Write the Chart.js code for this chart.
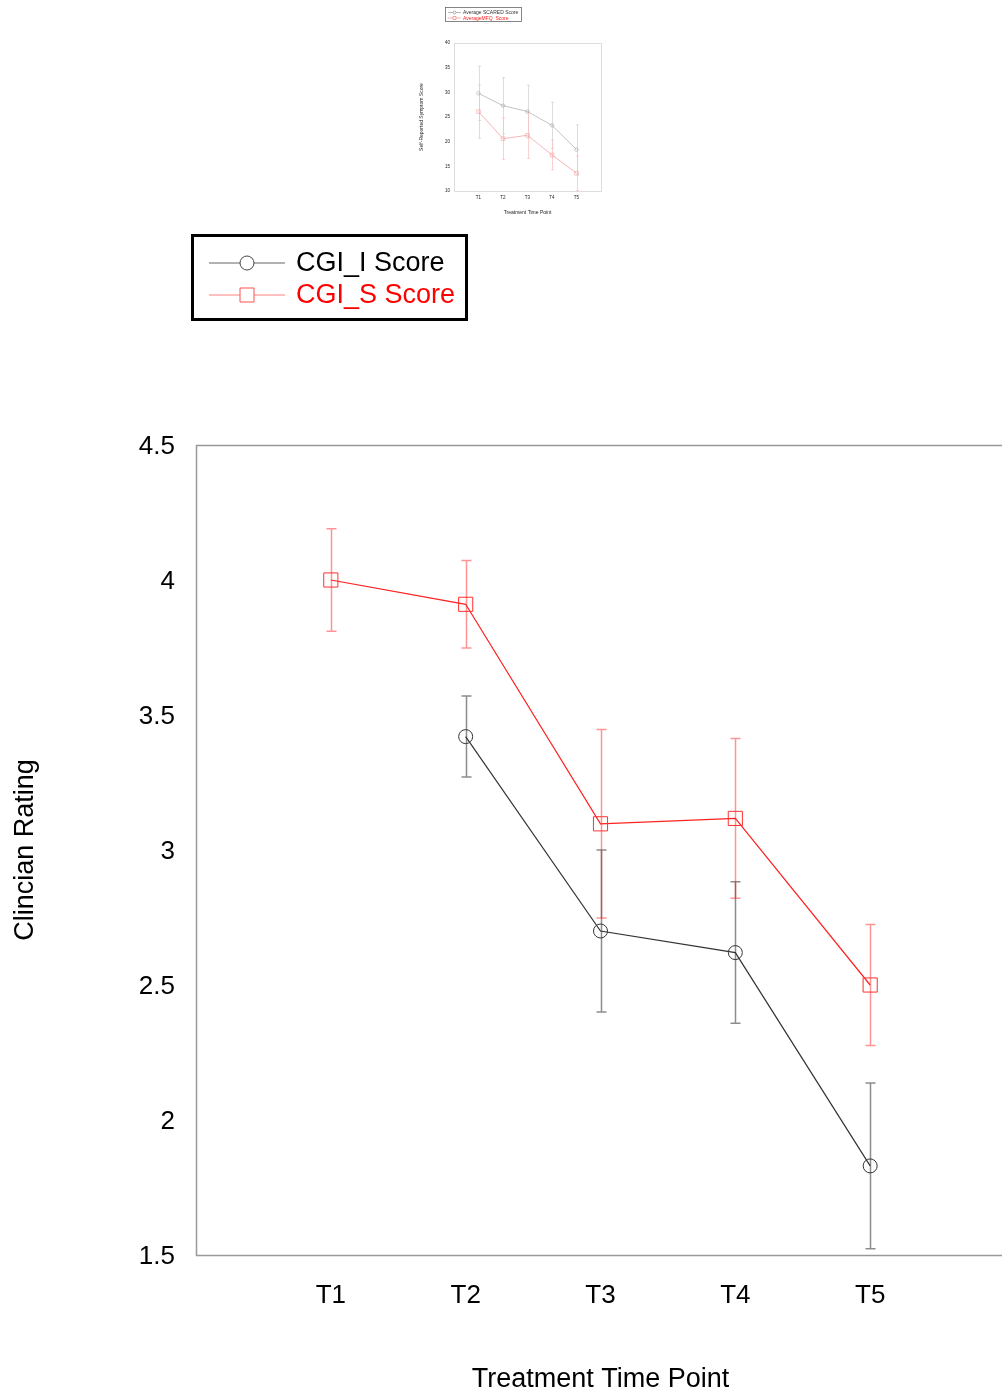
<!DOCTYPE html>
<html>
<head>
<meta charset="utf-8">
<title>Clinician Rating</title>
<script src="https://cdn.jsdelivr.net/npm/chart.js@4.4.1/dist/chart.umd.min.js"></script>
<style>
    html, body { margin: 0; padding: 0; background: #fff; overflow: hidden; }
    #wrap { position: relative; width: 1002px; height: 1391px; overflow: hidden; background: #fff; }
    #mainChart { position: absolute; left: 0; top: 0; }
    #insetChart { position: absolute; left: 410px; top: 0; }
</style>
</head>
<body>
<div id="wrap">
    <canvas id="mainChart" width="1016" height="1391"></canvas>
    <canvas id="insetChart" width="200" height="222"></canvas>
</div>
<script>
// Dữ liệu biểu đồ chính
const categories = ['T1', 'T2', 'T3', 'T4', 'T5'];
const yTicks = [1.5, 2, 2.5, 3, 3.5, 4, 4.5];
const cgiI = [null, 3.42, 2.70, 2.62, 1.83];
const cgiIErr = [null, 0.15, 0.30, 0.262, 0.307];
const cgiS = [4.0, 3.91, 3.097, 3.117, 2.5];
const cgiSErr = [0.19, 0.162, 0.349, 0.296, 0.224];

// Dữ liệu biểu đồ nhỏ phía trên
const insetTicks = [10, 15, 20, 25, 30, 35, 40];
const scared = [29.8, 27.3, 26.1, 23.3, 18.4];
const scaredErr = [5.5, 5.7, 5.35, 4.7, 5.0];
const mfq = [26.1, 20.6, 21.3, 17.3, 13.6];
const mfqErr = [5.4, 4.2, 4.7, 3.0, 3.5];

const FONT = "'Liberation Sans', Arial, sans-serif";

function toPoints(values) {
    return values.map((v, i) => ({ x: i + 1, y: v }));
}

// Vẽ thanh sai số
const errorBarPlugin = {
    id: 'errorBars',
    beforeDatasetsDraw(chart, args, opts) {
        const ctx = chart.ctx;
        const xs = chart.scales.x, ys = chart.scales.y;
        chart.data.datasets.forEach(ds => {
            if (!ds.errors) return;
            ctx.save();
            ctx.strokeStyle = ds.errorColor;
            ctx.lineWidth = opts.lineWidth;
            ds.data.forEach((p, i) => {
                const e = ds.errors[i];
                if (p.y == null || e == null) return;
                const x = Math.round(xs.getPixelForValue(p.x)) + 0.5;
                const top = ys.getPixelForValue(p.y + e);
                const bot = ys.getPixelForValue(p.y - e);
                ctx.beginPath();
                ctx.moveTo(x, top); ctx.lineTo(x, bot);
                ctx.moveTo(x - opts.cap, top); ctx.lineTo(x + opts.cap, top);
                ctx.moveTo(x - opts.cap, bot); ctx.lineTo(x + opts.cap, bot);
                ctx.stroke();
            });
            ctx.restore();
        });
    }
};

// Khung vùng vẽ
const framePlugin = {
    id: 'frame',
    beforeDatasetsDraw(chart, args, opts) {
        const a = chart.chartArea, ctx = chart.ctx;
        ctx.save();
        ctx.strokeStyle = opts.color;
        ctx.lineWidth = opts.width;
        ctx.strokeRect(Math.round(a.left) + 0.5, Math.round(a.top) + 0.5,
            Math.round(a.right - a.left), Math.round(a.bottom - a.top));
        ctx.restore();
    }
};

// Chú thích tự vẽ
const boxLegendPlugin = {
    id: 'boxLegend',
    afterDraw(chart, args, opts) {
        const ctx = chart.ctx;
        ctx.save();
        ctx.strokeStyle = opts.borderColor;
        ctx.lineWidth = opts.borderWidth;
        ctx.strokeRect(opts.box[0], opts.box[1], opts.box[2], opts.box[3]);
        ctx.font = opts.fontSize + 'px ' + FONT;
        ctx.textBaseline = 'middle';
        opts.items.forEach((it, k) => {
            const y = opts.rowY[k];
            ctx.strokeStyle = it.lineColor;
            ctx.lineWidth = 1;
            ctx.beginPath();
            ctx.moveTo(opts.lineX[0], y + 0.5); ctx.lineTo(opts.lineX[1], y + 0.5);
            ctx.stroke();
            const mx = (opts.lineX[0] + opts.lineX[1]) / 2;
            ctx.strokeStyle = it.markerColor;
            ctx.fillStyle = '#fff';
            ctx.beginPath();
            if (it.marker === 'circle') {
                ctx.arc(mx, y + 0.5, opts.markerSize / 2, 0, Math.PI * 2);
            } else {
                ctx.rect(mx - opts.markerSize / 2, y - opts.markerSize / 2 + 0.5, opts.markerSize, opts.markerSize);
            }
            ctx.fill();
            ctx.stroke();
            ctx.fillStyle = it.textColor;
            ctx.fillText(it.text, opts.textX, y + 1);
        });
        ctx.restore();
    }
};

function fixedTicks(values) {
    return scale => { scale.ticks = values.map(v => ({ value: v })); };
}

// Biểu đồ chính
new Chart(document.getElementById('mainChart'), {
    type: 'line',
    data: {
        datasets: [{
            label: 'CGI_I Score',
            data: toPoints(cgiI),
            errors: cgiIErr,
            errorColor: 'rgba(0,0,0,0.45)',
            borderColor: '#333',
            borderWidth: 1.2,
            pointStyle: 'circle',
            pointRadius: 7,
            pointBorderWidth: 1,
            pointBorderColor: '#333',
            pointBackgroundColor: 'rgba(0,0,0,0)',
            fill: false,
            tension: 0
        }, {
            label: 'CGI_S Score',
            data: toPoints(cgiS),
            errors: cgiSErr,
            errorColor: 'rgba(255,0,0,0.42)',
            borderColor: '#ff2020',
            borderWidth: 1.2,
            pointStyle: 'rect',
            pointRadius: 10,
            pointBorderWidth: 1,
            pointBorderColor: '#ff3030',
            pointBackgroundColor: 'rgba(0,0,0,0)',
            fill: false,
            tension: 0
        }]
    },
    options: {
        responsive: false,
        animation: false,
        devicePixelRatio: 1,
        layout: { padding: { top: 445, left: 0, right: 4, bottom: 0 } },
        plugins: {
            legend: { display: false },
            tooltip: { enabled: false },
            errorBars: { lineWidth: 1.5, cap: 5 },
            frame: { color: '#999', width: 1.5 },
            boxLegend: {
                box: [192.5, 235.5, 274, 84],
                borderColor: '#000',
                borderWidth: 3,
                fontSize: 27,
                rowY: [262.5, 294.5],
                lineX: [209, 285],
                textX: 296,
                markerSize: 14,
                items: [
                    { text: 'CGI_I Score', textColor: '#000', lineColor: '#666', markerColor: '#444', marker: 'circle' },
                    { text: 'CGI_S Score', textColor: '#ff0000', lineColor: '#ff8080', markerColor: '#ff5050', marker: 'rect' }
                ]
            }
        },
        scales: {
            x: {
                type: 'linear',
                min: 0,
                max: 6,
                grid: { display: false, drawTicks: false },
                border: { display: false },
                afterBuildTicks: fixedTicks(categories.map((c, i) => i + 1)),
                afterFit: s => { s.height = 136; },
                ticks: {
                    callback: v => categories[v - 1],
                    font: { family: FONT, size: 26 },
                    color: '#000',
                    padding: 25,
                    autoSkip: false,
                    maxRotation: 0
                },
                title: {
                    display: true,
                    text: 'Treatment Time Point',
                    font: { family: FONT, size: 27, lineHeight: 1 },
                    color: '#000',
                    padding: { top: 0, bottom: -2 }
                }
            },
            y: {
                min: 1.5,
                max: 4.5,
                grid: { display: false, drawTicks: false },
                border: { display: false },
                afterBuildTicks: fixedTicks(yTicks),
                afterFit: s => { s.width = 196; },
                ticks: {
                    callback: v => String(v),
                    font: { family: FONT, size: 26 },
                    color: '#000',
                    padding: 21,
                    labelOffset: 2
                },
                title: {
                    display: true,
                    text: 'Clincian Rating',
                    font: { family: FONT, size: 27, lineHeight: 1 },
                    color: '#000',
                    padding: { top: 12, bottom: 0 }
                }
            }
        }
    },
    plugins: [errorBarPlugin, framePlugin, boxLegendPlugin]
});

// Biểu đồ nhỏ (self-reported)
new Chart(document.getElementById('insetChart'), {
    type: 'line',
    data: {
        datasets: [{
            label: 'Average SCARED Score',
            data: toPoints(scared),
            errors: scaredErr,
            errorColor: '#d4d4d4',
            borderColor: '#b4b4b4',
            borderWidth: 0.8,
            pointStyle: 'circle',
            pointRadius: 1.8,
            pointBorderWidth: 0.6,
            pointBorderColor: '#aaa',
            pointBackgroundColor: 'rgba(0,0,0,0)',
            fill: false
        }, {
            label: 'AverageMFQ  Score',
            data: toPoints(mfq),
            errors: mfqErr,
            errorColor: '#f9c4c4',
            borderColor: '#f5a3a3',
            borderWidth: 0.8,
            pointStyle: 'rect',
            pointRadius: 2.6,
            pointBorderWidth: 0.6,
            pointBorderColor: '#f3a0a0',
            pointBackgroundColor: 'rgba(0,0,0,0)',
            fill: false
        }]
    },
    options: {
        responsive: false,
        animation: false,
        devicePixelRatio: 1,
        layout: { padding: { top: 43, left: 0, right: 9, bottom: 0 } },
        plugins: {
            legend: { display: false },
            tooltip: { enabled: false },
            errorBars: { lineWidth: 0.8, cap: 1.5 },
            frame: { color: '#ddd', width: 1 },
            boxLegend: {
                box: [35.5, 7.5, 76, 14],
                borderColor: '#666',
                borderWidth: 0.8,
                fontSize: 5,
                rowY: [12, 17.5],
                lineX: [38, 51],
                textX: 53,
                markerSize: 3,
                items: [
                    { text: 'Average SCARED Score', textColor: '#333', lineColor: '#bbb', markerColor: '#aaa', marker: 'circle' },
                    { text: 'AverageMFQ  Score', textColor: '#ff2020', lineColor: '#f6b0b0', markerColor: '#f3a0a0', marker: 'rect' }
                ]
            }
        },
        scales: {
            x: {
                type: 'linear',
                min: 0,
                max: 6,
                grid: { display: false, drawTicks: false },
                border: { display: false },
                afterBuildTicks: fixedTicks(categories.map((c, i) => i + 1)),
                afterFit: s => { s.height = 31; },
                ticks: {
                    callback: v => categories[v - 1],
                    font: { family: FONT, size: 4.5 },
                    color: '#222',
                    padding: 4,
                    autoSkip: false,
                    maxRotation: 0
                },
                title: {
                    display: true,
                    text: 'Treatment Time Point',
                    font: { family: FONT, size: 5, lineHeight: 1 },
                    color: '#222',
                    padding: { top: 0, bottom: 6.5 }
                }
            },
            y: {
                min: 10,
                max: 40,
                grid: { display: false, drawTicks: false },
                border: { display: false },
                afterBuildTicks: fixedTicks(insetTicks),
                afterFit: s => { s.width = 44; },
                ticks: {
                    font: { family: FONT, size: 4.5 },
                    color: '#222',
                    padding: 4
                },
                title: {
                    display: true,
                    text: 'Self-Reported Symptom Score',
                    font: { family: FONT, size: 5, lineHeight: 1 },
                    color: '#222',
                    padding: { top: 9.5, bottom: 0 }
                }
            }
        }
    },
    plugins: [errorBarPlugin, framePlugin, boxLegendPlugin]
});
</script>
</body>
</html>
